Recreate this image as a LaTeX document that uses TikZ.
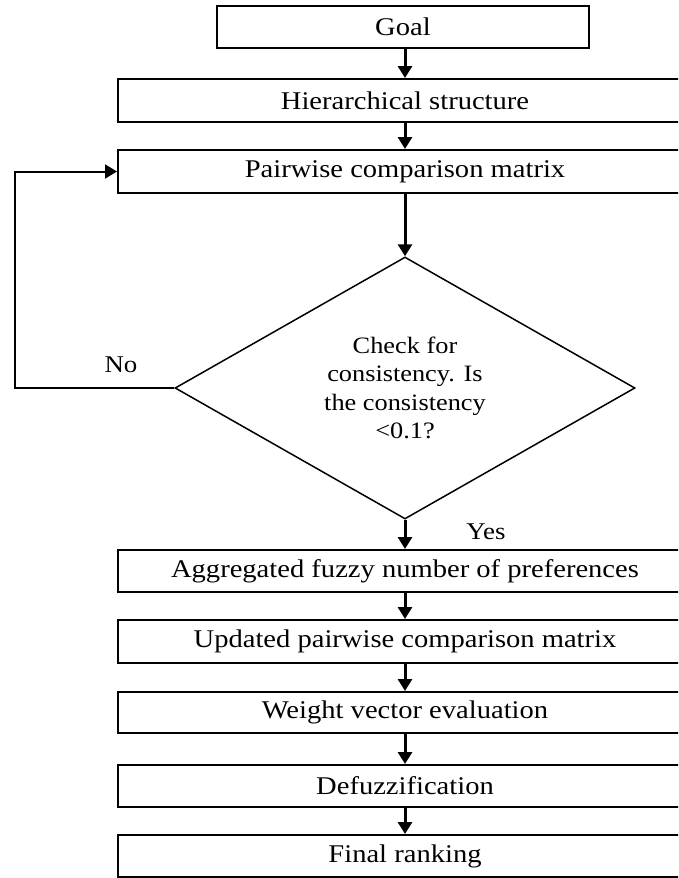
\documentclass[tikz,border=0pt]{standalone}
\usepackage{fontspec}
\setmainfont{Liberation Serif}[FakeStretch=1.12]
\usetikzlibrary{arrows.meta,shapes.geometric}
\begin{document}
\begin{tikzpicture}[x=1pt,y=-1pt,
  box/.style={draw,line width=2pt,rectangle,minimum width=574pt,minimum height=43pt,inner sep=0pt,font=\fontsize{25.5}{28}\selectfont},
  decide/.style={draw,line width=1.5pt,diamond,minimum width=460pt,minimum height=262pt,aspect=1.756,inner sep=0pt,align=center,font=\fontsize{23.5}{28.5}\selectfont},
  flow/.style={line width=3pt,-{Triangle[width=14pt,length=12pt]}},
  loop/.style={line width=2pt,-{Triangle[width=14pt,length=12pt]}},
  lbl/.style={font=\fontsize{24}{28}\selectfont,inner sep=0pt}]
\useasboundingbox (0,0) rectangle (678,878);
\begin{scope}
\clip (0,0) rectangle (678,878);
\node[box,minimum width=372pt,minimum height=42pt] (goal) at (403,27) {Goal};
\node[box] (hier) at (405,100.5) {Hierarchical structure};
\node[box] (pair) at (405,171.5) {Pairwise comparison matrix};
\node[decide] (chk) at (405,388) {Check for\\consistency. Is\\the consistency\\<0.1?};
\node[box,minimum height=42pt] (agg) at (405,571) {Aggregated fuzzy number of preferences};
\node[box] (upd) at (405,641.5) {Updated pairwise comparison matrix};
\node[box,minimum height=41pt] (wgt) at (405,712.5) {Weight vector evaluation};
\node[box,minimum height=42pt] (dfz) at (405,786) {Defuzzification};
\node[box,minimum height=42pt] (fin) at (405,856) {Final ranking};
\draw[flow] (goal.south -| hier.north) -- (hier.north);
\draw[flow] (hier) -- (pair);
\draw[flow] (pair) -- (chk.north);
\draw[flow] (chk.south) -- (agg.north);
\draw[flow] (agg) -- (upd);
\draw[flow] (upd) -- (wgt);
\draw[flow] (wgt) -- (dfz);
\draw[flow] (dfz) -- (fin);
\coordinate (lx) at (15,388);
\draw[loop] (chk.west) -- (lx) -- (lx |- pair.west) -- (pair.west);
\node[lbl] (no) at (121,365) {No};
\node[lbl] (yes) at (486,532) {Yes};
\end{scope}
\end{tikzpicture}
\end{document}
